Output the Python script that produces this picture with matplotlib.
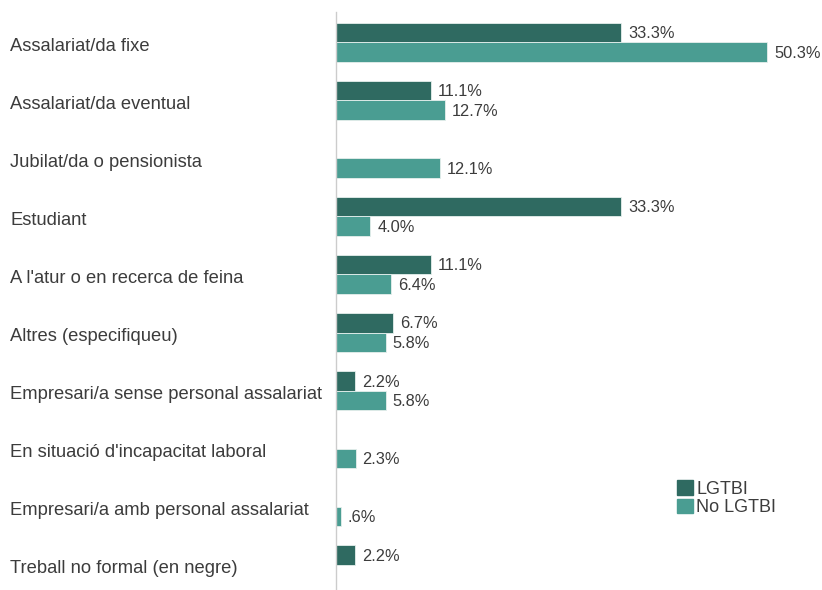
import numpy as np
import matplotlib.pyplot as plt
from matplotlib.transforms import blended_transform_factory

plt.rcParams['font.family'] = ['Liberation Sans', 'DejaVu Sans']

categories = [
    "Assalariat/da fixe",
    "Assalariat/da eventual",
    "Jubilat/da o pensionista",
    "Estudiant",
    "A l'atur o en recerca de feina",
    "Altres (especifiqueu)",
    "Empresari/a sense personal assalariat",
    "En situació d'incapacitat laboral",
    "Empresari/a amb personal assalariat",
    "Treball no formal (en negre)",
]
lgtbi = [33.3, 11.1, None, 33.3, 11.1, 6.7, 2.2, None, None, 2.2]
no_lgtbi = [50.3, 12.7, 12.1, 4.0, 6.4, 5.8, 5.8, 2.3, 0.6, None]

dark = '#2f6a61'
light = '#4a9d92'
text_col = '#3c3c3c'


def fmt(v):
    s = '%.1f%%' % v
    if s.startswith('0.'):
        s = s[1:]
    return s


fig = plt.figure(figsize=(8.22, 5.9), dpi=100)
ax = fig.add_axes([336 / 822, 1 - 595 / 590, (800 - 336) / 822, (595 - 12) / 590])

y = np.arange(len(categories))
h = 0.335
for i, (a, b) in enumerate(zip(lgtbi, no_lgtbi)):
    if a is not None:
        ax.barh(y[i] - h / 2, a, height=h, color=dark, edgecolor='#e6efed', linewidth=0.6)
        ax.text(a + 0.8, y[i] - h / 2 + 0.02, fmt(a), va='center', ha='left', fontsize=11.8, color=text_col)
    if b is not None:
        ax.barh(y[i] + h / 2, b, height=h, color=light, edgecolor='#e6efed', linewidth=0.6)
        ax.text(b + 0.8, y[i] + h / 2 + 0.02, fmt(b), va='center', ha='left', fontsize=11.8, color=text_col)

ax.set_ylim(len(categories) - 0.5 + 0.02, -0.5 - 0.02)
ax.set_xlim(0, (800 - 336) / 8.57)
ax.set_xticks([])
ax.set_yticks([])
for s in ['top', 'right', 'bottom']:
    ax.spines[s].set_visible(False)
ax.spines['left'].set_color('#cccccc')
ax.spines['left'].set_linewidth(1)

# category names, left aligned at the figure edge
trans = blended_transform_factory(fig.transFigure, ax.transData)
for i, c in enumerate(categories):
    ax.text(10 / 822, y[i] + 0.07, c, transform=trans,
            ha='left', va='center', fontsize=13.2, color=text_col)

handles = [plt.Rectangle((0, 0), 1, 1, color=dark), plt.Rectangle((0, 0), 1, 1, color=light)]
fig.legend(handles, ['LGTBI', 'No LGTBI'], loc='upper left', bbox_to_anchor=(670 / 822, 1 - 473 / 590),
           frameon=False, fontsize=13, handlelength=0.85, handleheight=0.85, handletextpad=0.2,
           labelspacing=0.05, borderaxespad=0, labelcolor=text_col)

fig.savefig('out.png', dpi=100)
